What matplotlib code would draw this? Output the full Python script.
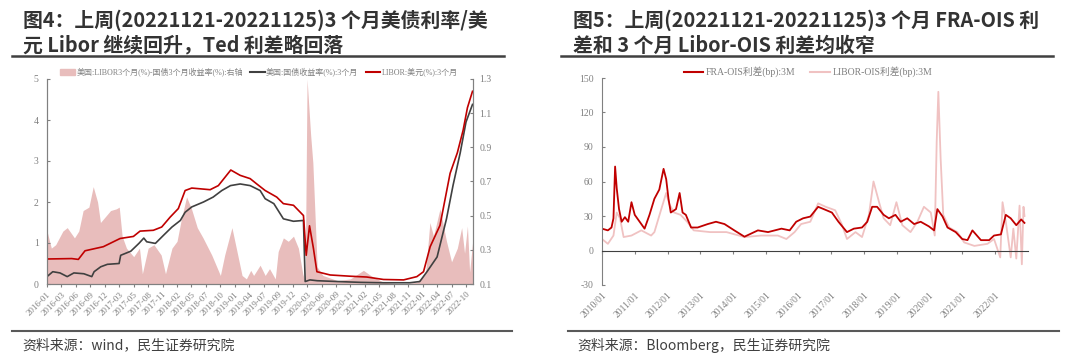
import matplotlib
matplotlib.use("Agg")
import matplotlib.pyplot as plt
from matplotlib.lines import Line2D
from matplotlib.patches import Patch

plt.rcParams['font.family'] = ['Noto Sans CJK SC', 'DejaVu Sans']

SERIF = ['Liberation Serif', 'Noto Sans CJK SC']
GRAY = '#808080'
RED = '#C00000'
DARK = '#404040'
PINK = '#E8BDBC'
LIGHT = '#F0C2C2'

# ---- left chart: 3M treasury / 3M USD Libor, x in trading-day index (tick units)
left_ticks = ["2016-01", "2016-03", "2016-06", "2016-09", "2016-12", "2017-03",
              "2017-05", "2017-08", "2017-11", "2018-02", "2018-05", "2018-07",
              "2018-10", "2019-01", "2019-04", "2019-07", "2019-09", "2019-12",
              "2020-03", "2020-06", "2020-09", "2020-11", "2021-02", "2021-05",
              "2021-08", "2021-11", "2022-01", "2022-04", "2022-07", "2022-10"]

spread_t = [0, 0.3, 0.6, 1.1, 1.4, 1.9, 2.2, 2.5, 2.9, 3.2, 3.5, 3.7, 4.1, 4.4,
            4.8, 5.0, 5.2, 5.5, 6.0, 6.4, 6.6, 7.0, 7.4, 7.9, 8.2, 8.65, 9.0,
            9.3, 9.66, 10.0, 10.4, 10.8, 11.4, 12.0, 12.3, 12.8, 13.1, 13.5,
            13.8, 14.1, 14.3, 14.75, 15.1, 15.4, 15.8, 16.0, 16.36, 16.7, 17.06,
            17.4, 17.7, 17.87, 18.0, 18.25, 18.4, 18.7, 19.1, 20.1, 21.0, 21.9,
            22.4, 23.3, 24.5, 25.6, 26.2, 26.5, 26.75, 27.2, 27.65, 28.0, 28.4,
            28.7, 28.9, 29.1, 29.25, 29.45]
spread_v = [0.41, 0.31, 0.33, 0.41, 0.43, 0.37, 0.41, 0.53, 0.55, 0.67, 0.58,
            0.46, 0.50, 0.53, 0.54, 0.55, 0.38, 0.31, 0.26, 0.31, 0.16, 0.31,
            0.33, 0.27, 0.16, 0.31, 0.35, 0.48, 0.61, 0.54, 0.43, 0.37, 0.27,
            0.15, 0.27, 0.43, 0.31, 0.15, 0.13, 0.18, 0.15, 0.21, 0.15, 0.19,
            0.13, 0.29, 0.37, 0.35, 0.38, 0.31, 0.16, 0.11, 1.30, 0.97, 0.81,
            0.20, 0.15, 0.12, 0.13, 0.18, 0.15, 0.11, 0.10, 0.11, 0.16, 0.46,
            0.38, 0.54, 0.35, 0.23, 0.31, 0.43, 0.28, 0.44, 0.17, 0.34]

tsy_t = [0, 0.4, 0.9, 1.4, 1.86, 2.55, 3.1, 3.26, 3.72, 4.18, 4.99, 5.1, 5.8,
         6.36, 6.7, 6.9, 7.5, 8.07, 8.65, 9.23, 9.56, 10.02, 10.83, 11.5, 12.1,
         12.7, 13.37, 14.06, 14.75, 15.1, 15.7, 16.36, 17.06, 17.75, 17.87, 18.2,
         18.7, 20.1, 21.7, 23.3, 25.1, 25.8, 26.3, 27.0, 27.65, 28.1, 28.6, 29.0,
         29.45]
tsy_v = [0.18, 0.30, 0.27, 0.18, 0.27, 0.25, 0.18, 0.30, 0.42, 0.48, 0.50, 0.70,
         0.80, 0.99, 1.12, 1.03, 0.99, 1.19, 1.39, 1.55, 1.75, 1.88, 2.00, 2.12,
         2.28, 2.40, 2.44, 2.40, 2.28, 2.08, 1.96, 1.59, 1.53, 1.55, 0.06, 0.10,
         0.08, 0.06, 0.04, 0.03, 0.03, 0.06, 0.30, 0.66, 1.59, 2.40, 3.20, 3.95,
         4.38]

libor_t = [0, 1.71, 2.17, 2.63, 3.9, 5.06, 5.98, 6.44, 7.36, 7.94, 8.52, 9.09,
           9.56, 10.02, 11.29, 11.86, 12.72, 13.37, 14.06, 14.52, 15.1, 15.9,
           16.36, 17.06, 17.75, 17.94, 18.17, 18.44, 18.68, 19.6, 20.98, 22.14,
           23.29, 24.68, 25.6, 26.06, 26.52, 27.2, 27.9, 28.4, 28.8, 29.1, 29.45]
libor_v = [0.61, 0.62, 0.60, 0.81, 0.91, 1.11, 1.16, 1.29, 1.31, 1.39, 1.63,
           1.84, 2.28, 2.34, 2.30, 2.40, 2.78, 2.65, 2.57, 2.44, 2.28, 2.12,
           1.96, 1.92, 1.67, 0.70, 1.42, 0.87, 0.30, 0.22, 0.19, 0.17, 0.11,
           0.10, 0.18, 0.30, 0.91, 1.43, 2.70, 3.20, 3.75, 4.30, 4.70]

# ---- right chart: FRA-OIS and LIBOR-OIS spreads (bp), x in years
fra_yr = [2010.0, 2010.18, 2010.29, 2010.35, 2010.40, 2010.45, 2010.52, 2010.6,
          2010.7, 2010.8, 2010.9, 2011.0, 2011.15, 2011.3, 2011.45, 2011.6,
          2011.75, 2011.88, 2011.96, 2012.03, 2012.1, 2012.26, 2012.37, 2012.46,
          2012.56, 2012.72, 2012.92, 2013.23, 2013.48, 2013.74, 2014.04, 2014.35,
          2014.76, 2015.07, 2015.48, 2015.73, 2015.93, 2016.14, 2016.36, 2016.6,
          2016.77, 2017.02, 2017.22, 2017.48, 2017.69, 2017.94, 2018.1, 2018.25,
          2018.4, 2018.6, 2018.76, 2018.96, 2019.12, 2019.32, 2019.53, 2019.73,
          2019.98, 2020.14, 2020.24, 2020.4, 2020.55, 2020.8, 2021.0, 2021.16,
          2021.31, 2021.57, 2021.82, 2021.97, 2022.18, 2022.33, 2022.48, 2022.65,
          2022.8, 2022.9]
fra_bp = [19, 17.5, 20, 28, 73, 54, 36, 25, 29, 25, 42, 31, 25, 19, 31, 45, 53,
          71, 62, 45, 33, 36, 50, 33, 31, 20, 20, 23, 25, 23, 17.5, 12, 17.5, 16,
          19, 17.5, 25, 28, 29.5, 38, 36, 33, 25, 16, 19, 20, 25, 38, 38, 31, 28,
          31, 25, 28, 23, 25, 21, 17.5, 36, 29.5, 20, 16, 10, 9, 17.5, 9, 9, 13,
          14, 31, 28, 22, 27, 24]

lois_yr = [2010.0, 2010.18, 2010.35, 2010.45, 2010.55, 2010.66, 2010.9, 2011.2,
           2011.5, 2011.6, 2011.81, 2011.96, 2012.06, 2012.2, 2012.4, 2012.6,
           2012.8, 2013.3, 2013.8, 2014.35, 2014.86, 2015.37, 2015.63, 2015.88,
           2016.08, 2016.36, 2016.6, 2016.83, 2017.12, 2017.32, 2017.48, 2017.74,
           2017.94, 2018.15, 2018.29, 2018.46, 2018.6, 2018.8, 2018.99, 2019.17,
           2019.42, 2019.63, 2019.83, 2020.04, 2020.16, 2020.22, 2020.27, 2020.34,
           2020.42, 2020.6, 2020.85, 2021.06, 2021.37, 2021.77, 2021.97, 2022.16,
           2022.23, 2022.33, 2022.48, 2022.56, 2022.65, 2022.75, 2022.82, 2022.87,
           2022.9]
lois_bp = [10, 5.8, 13, 33, 28, 11.7, 13, 17.5, 13, 16, 36, 50, 40, 33, 31, 25,
           17.5, 16, 16, 11.7, 13, 13, 10, 16, 23, 25, 41, 38, 35, 23, 10, 16,
           11.7, 31, 60, 42, 28, 22, 42, 22, 16, 25, 38, 33, 13, 95, 138, 80, 31,
           20, 16, 7, 4, 5.8, 10, -6, 42, 25, -6, 19, -7, 39, -12, 38, 30]

left_yticks = [0, 1, 2, 3, 4, 5]
right_yticks = [0.1, 0.3, 0.5, 0.7, 0.9, 1.1, 1.3]
year_ticks = list(range(2010, 2023))
spread_yticks = [-30, 0, 30, 60, 90, 120, 150]

W, H = 1080, 364
fig = plt.figure(figsize=(W / 100, H / 100), dpi=100)


def fx(px):
    return px / W


def fy(py):
    return 1 - py / H


# ---------------- left panel ----------------
ax1 = fig.add_axes([fx(47), fy(284), fx(472.5 - 47), (284 - 79) / H])
ax1r = ax1.twinx()
ax1.set_zorder(ax1r.get_zorder() + 1)
ax1.patch.set_visible(False)

ax1r.fill_between(spread_t, 0.1, spread_v, color=PINK, lw=0)
ax1.plot(tsy_t, tsy_v, color=DARK, lw=1.2)
ax1.plot(libor_t, libor_v, color=RED, lw=1.2)

ax1.set_xlim(0, 29.45)
ax1.set_ylim(0, 5)
ax1r.set_ylim(0.1, 1.3)
ax1.set_yticks(left_yticks)
ax1.set_yticklabels([str(v) for v in left_yticks], family=SERIF, fontsize=7, color=GRAY)
ax1r.set_yticks(right_yticks)
ax1r.set_yticklabels([f"{v:.1f}" for v in right_yticks], family=SERIF, fontsize=7, color=GRAY)
ax1.set_xticks(range(len(left_ticks)))
ax1.set_xticklabels(left_ticks, rotation=45, ha='right', rotation_mode='anchor',
                    family=SERIF, fontsize=6.5, color=GRAY)
for a in (ax1, ax1r):
    a.spines['top'].set_visible(False)
    for s in ('left', 'right', 'bottom'):
        a.spines[s].set_color(GRAY)
ax1.tick_params(axis='y', direction='in', length=2.5, color=GRAY, pad=6)
ax1r.tick_params(axis='y', direction='in', length=2.5, color=GRAY, pad=5)
ax1.tick_params(axis='x', direction='out', length=2.5, color=GRAY, pad=2)

handles1 = [Patch(color=PINK), Line2D([], [], color=DARK, lw=1.5),
            Line2D([], [], color=RED, lw=1.5)]
labels1 = ["美国:LIBOR3个月(%)-国债3个月收益率(%):右轴", "美国:国债收益率(%):3个月",
           "LIBOR:美元(%):3个月"]
fig.legend(handles1, labels1, loc='center', bbox_to_anchor=(fx(259), fy(72)),
           ncol=3, frameon=False, prop={'family': SERIF, 'size': 5.8},
           handlelength=1.8, handleheight=0.8, columnspacing=0.9, handletextpad=0.2,
           labelcolor=GRAY, borderpad=0.1)

# ---------------- right panel ----------------
ax2 = fig.add_axes([fx(602), fy(285), fx(13 * 32.75), (285 - 78) / H])
ax2.plot(lois_yr, lois_bp, color=LIGHT, lw=1.3)
ax2.plot(fra_yr, fra_bp, color=RED, lw=1.3)
ax2.set_xlim(2010, 2023)
ax2.set_ylim(-30, 150)
ax2.set_yticks(spread_yticks)
ax2.set_yticklabels([str(v) for v in spread_yticks], family=SERIF, fontsize=7, color=GRAY)
ax2.spines['top'].set_visible(False)
ax2.spines['right'].set_visible(False)
ax2.spines['left'].set_color(GRAY)
ax2.spines['bottom'].set_color(DARK)
ax2.spines['bottom'].set_position(('data', 0))
ax2.set_xticks(year_ticks)
ax2.tick_params(axis='x', direction='out', length=2.5, color=GRAY, labelbottom=False)
ax2.tick_params(axis='y', direction='in', length=2.5, color=GRAY, pad=6)
sec = ax2.secondary_xaxis(0)
sec.set_xticks(year_ticks)
sec.set_xticklabels([f"{y}/01" for y in year_ticks], rotation=45, ha='right',
                    rotation_mode='anchor', family=SERIF, fontsize=7, color=GRAY)
sec.spines['bottom'].set_visible(False)
sec.tick_params(length=0, pad=4)

handles2 = [Line2D([], [], color=RED, lw=1.5), Line2D([], [], color=LIGHT, lw=1.5)]
labels2 = ["FRA-OIS利差(bp):3M", "LIBOR-OIS利差(bp):3M"]
fig.legend(handles2, labels2, loc='center', bbox_to_anchor=(fx(808), fy(72)),
           ncol=2, frameon=False, prop={'family': SERIF, 'size': 7},
           handlelength=2.0, columnspacing=1.5, handletextpad=0.3, labelcolor=GRAY,
           borderpad=0.1)

# ---------------- titles, rules, sources ----------------
TITLE = '#333333'
TSIZE = 14.3
fig.text(fx(23), fy(20), "图4：上周(20221121-20221125)3 个月美债利率/美",
         fontsize=TSIZE, weight='bold', color=TITLE, va='center')
fig.text(fx(23), fy(45), "元 Libor 继续回升，Ted 利差略回落",
         fontsize=TSIZE, weight='bold', color=TITLE, va='center')
fig.text(fx(573), fy(20), "图5：上周(20221121-20221125)3 个月 FRA-OIS 利",
         fontsize=TSIZE, weight='bold', color=TITLE, va='center')
fig.text(fx(573), fy(45), "差和 3 个月 Libor-OIS 利差均收窄",
         fontsize=TSIZE, weight='bold', color=TITLE, va='center')

for x0, x1 in ((12, 504), (561, 1053)):
    fig.add_artist(Line2D([fx(x0), fx(x1)], [fy(56), fy(56)], color=DARK, lw=1.8))
for x0, x1 in ((12, 512), (568, 1059)):
    fig.add_artist(Line2D([fx(x0), fx(x1)], [fy(331), fy(331)], color='#595959', lw=1.5))

fig.text(fx(22), fy(345), "资料来源：wind，民生证券研究院", fontsize=10, color='#404040', va='center')
fig.text(fx(577), fy(345), "资料来源：Bloomberg，民生证券研究院", fontsize=10, color='#404040', va='center')

fig.savefig("out.png", dpi=100)
